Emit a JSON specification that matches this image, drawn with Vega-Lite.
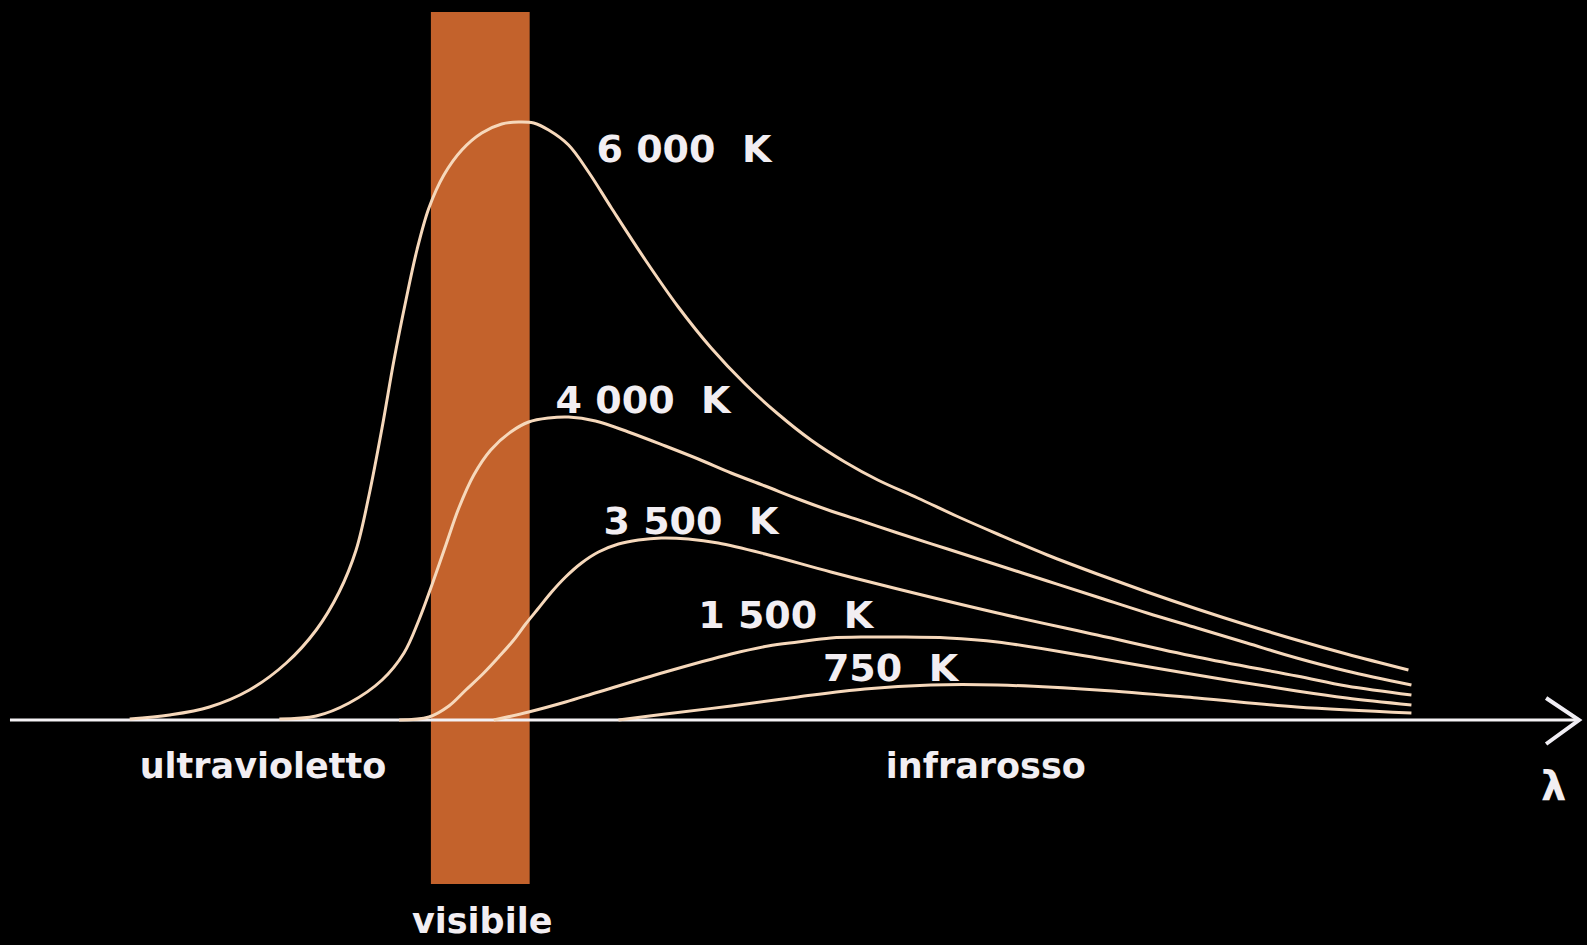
{
  "$schema": "https://vega.github.io/schema/vega-lite/v6.json",
  "width": 1587,
  "height": 945,
  "autosize": {"type": "fit", "contains": "padding"},
  "padding": 0,
  "background": "#000000",
  "config": {"view": {"stroke": null}},
  "layer": [
    {
      "data": {"values": [{"name": "visibile", "x0": 432, "x1": 531, "top": 708, "bottom": -164}]},
      "mark": {"type": "rect", "color": "#c3622c"},
      "encoding": {
        "x": {"field": "x0", "type": "quantitative", "scale": {"domain": [0, 1587], "nice": false, "zero": false}, "axis": null},
        "x2": {"field": "x1"},
        "y": {"field": "top", "type": "quantitative", "scale": {"domain": [-225, 720], "nice": false, "zero": false}, "axis": null},
        "y2": {"field": "bottom"}
      }
    },
    {
      "data": {"values": [{"x0": 10, "x1": 1583, "y": 0}]},
      "mark": {"type": "rule", "color": "#f4f1f4", "strokeWidth": 3},
      "encoding": {
        "x": {"field": "x0", "type": "quantitative", "scale": {"domain": [0, 1587], "nice": false, "zero": false}, "axis": null},
        "x2": {"field": "x1"},
        "y": {"field": "y", "type": "quantitative", "scale": {"domain": [-225, 720], "nice": false, "zero": false}, "axis": null}
      }
    },
    {
      "data": {"values": [{"p": 1, "x": 1550, "y": 22}, {"p": 2, "x": 1583, "y": 0}, {"p": 3, "x": 1550, "y": -24}]},
      "mark": {"type": "line", "color": "#f0eef4", "strokeWidth": 4},
      "encoding": {
        "x": {"field": "x", "type": "quantitative", "scale": {"domain": [0, 1587], "nice": false, "zero": false}, "axis": null},
        "y": {"field": "y", "type": "quantitative", "scale": {"domain": [-225, 720], "nice": false, "zero": false}, "axis": null},
        "order": {"field": "p"}
      }
    },
    {
      "data": {"values": [
        {"T": "6000", "x": 130, "y": 1}, {"T": "6000", "x": 170, "y": 5}, {"T": "6000", "x": 210, "y": 13}, {"T": "6000", "x": 250, "y": 30},
        {"T": "6000", "x": 287, "y": 57}, {"T": "6000", "x": 317, "y": 90}, {"T": "6000", "x": 340, "y": 128}, {"T": "6000", "x": 357, "y": 170},
        {"T": "6000", "x": 370, "y": 225}, {"T": "6000", "x": 383, "y": 292}, {"T": "6000", "x": 395, "y": 360}, {"T": "6000", "x": 407, "y": 420},
        {"T": "6000", "x": 418, "y": 470}, {"T": "6000", "x": 430, "y": 512}, {"T": "6000", "x": 445, "y": 545}, {"T": "6000", "x": 463, "y": 570},
        {"T": "6000", "x": 483, "y": 587}, {"T": "6000", "x": 503, "y": 596}, {"T": "6000", "x": 520, "y": 598}, {"T": "6000", "x": 535, "y": 597},
        {"T": "6000", "x": 550, "y": 590}, {"T": "6000", "x": 570, "y": 575}, {"T": "6000", "x": 590, "y": 548}, {"T": "6000", "x": 613, "y": 512},
        {"T": "6000", "x": 647, "y": 460}, {"T": "6000", "x": 680, "y": 413}, {"T": "6000", "x": 713, "y": 372}, {"T": "6000", "x": 747, "y": 336},
        {"T": "6000", "x": 780, "y": 306}, {"T": "6000", "x": 813, "y": 280}, {"T": "6000", "x": 847, "y": 258}, {"T": "6000", "x": 880, "y": 240},
        {"T": "6000", "x": 920, "y": 222}, {"T": "6000", "x": 961, "y": 203}, {"T": "6000", "x": 1000, "y": 186}, {"T": "6000", "x": 1050, "y": 165},
        {"T": "6000", "x": 1100, "y": 146}, {"T": "6000", "x": 1150, "y": 128}, {"T": "6000", "x": 1200, "y": 111}, {"T": "6000", "x": 1250, "y": 95},
        {"T": "6000", "x": 1300, "y": 80}, {"T": "6000", "x": 1350, "y": 66}, {"T": "6000", "x": 1412, "y": 50},
        {"T": "4000", "x": 280, "y": 1}, {"T": "4000", "x": 317, "y": 4}, {"T": "4000", "x": 350, "y": 17}, {"T": "4000", "x": 383, "y": 40},
        {"T": "4000", "x": 405, "y": 67}, {"T": "4000", "x": 420, "y": 100}, {"T": "4000", "x": 433, "y": 135}, {"T": "4000", "x": 447, "y": 175},
        {"T": "4000", "x": 460, "y": 212}, {"T": "4000", "x": 475, "y": 245}, {"T": "4000", "x": 492, "y": 270}, {"T": "4000", "x": 512, "y": 288},
        {"T": "4000", "x": 530, "y": 298}, {"T": "4000", "x": 550, "y": 302}, {"T": "4000", "x": 570, "y": 303}, {"T": "4000", "x": 597, "y": 299},
        {"T": "4000", "x": 630, "y": 288}, {"T": "4000", "x": 667, "y": 274}, {"T": "4000", "x": 700, "y": 261}, {"T": "4000", "x": 733, "y": 247},
        {"T": "4000", "x": 767, "y": 234}, {"T": "4000", "x": 800, "y": 221}, {"T": "4000", "x": 833, "y": 209}, {"T": "4000", "x": 867, "y": 198},
        {"T": "4000", "x": 900, "y": 187}, {"T": "4000", "x": 950, "y": 171}, {"T": "4000", "x": 1000, "y": 155}, {"T": "4000", "x": 1050, "y": 139},
        {"T": "4000", "x": 1100, "y": 123}, {"T": "4000", "x": 1150, "y": 107}, {"T": "4000", "x": 1200, "y": 92}, {"T": "4000", "x": 1250, "y": 77},
        {"T": "4000", "x": 1300, "y": 62}, {"T": "4000", "x": 1350, "y": 49}, {"T": "4000", "x": 1415, "y": 35},
        {"T": "3500", "x": 400, "y": 0}, {"T": "3500", "x": 430, "y": 3}, {"T": "3500", "x": 450, "y": 14}, {"T": "3500", "x": 467, "y": 30},
        {"T": "3500", "x": 485, "y": 47}, {"T": "3500", "x": 500, "y": 63}, {"T": "3500", "x": 515, "y": 80}, {"T": "3500", "x": 527, "y": 96},
        {"T": "3500", "x": 540, "y": 112}, {"T": "3500", "x": 553, "y": 128}, {"T": "3500", "x": 567, "y": 143}, {"T": "3500", "x": 583, "y": 157},
        {"T": "3500", "x": 600, "y": 168}, {"T": "3500", "x": 620, "y": 176}, {"T": "3500", "x": 640, "y": 180}, {"T": "3500", "x": 663, "y": 182},
        {"T": "3500", "x": 690, "y": 181}, {"T": "3500", "x": 720, "y": 177}, {"T": "3500", "x": 767, "y": 166}, {"T": "3500", "x": 833, "y": 148},
        {"T": "3500", "x": 900, "y": 131}, {"T": "3500", "x": 1000, "y": 107}, {"T": "3500", "x": 1100, "y": 85}, {"T": "3500", "x": 1200, "y": 63},
        {"T": "3500", "x": 1300, "y": 44}, {"T": "3500", "x": 1350, "y": 34}, {"T": "3500", "x": 1415, "y": 25},
        {"T": "1500", "x": 495, "y": 0}, {"T": "1500", "x": 530, "y": 8}, {"T": "1500", "x": 567, "y": 18}, {"T": "1500", "x": 600, "y": 28},
        {"T": "1500", "x": 667, "y": 48}, {"T": "1500", "x": 733, "y": 66}, {"T": "1500", "x": 770, "y": 74}, {"T": "1500", "x": 800, "y": 78},
        {"T": "1500", "x": 833, "y": 82}, {"T": "1500", "x": 870, "y": 83}, {"T": "1500", "x": 900, "y": 83}, {"T": "1500", "x": 950, "y": 82},
        {"T": "1500", "x": 1000, "y": 78}, {"T": "1500", "x": 1100, "y": 62}, {"T": "1500", "x": 1200, "y": 45}, {"T": "1500", "x": 1300, "y": 29},
        {"T": "1500", "x": 1350, "y": 22}, {"T": "1500", "x": 1415, "y": 15},
        {"T": "750", "x": 620, "y": 0}, {"T": "750", "x": 667, "y": 6}, {"T": "750", "x": 733, "y": 14}, {"T": "750", "x": 800, "y": 23},
        {"T": "750", "x": 867, "y": 31}, {"T": "750", "x": 933, "y": 35}, {"T": "750", "x": 1000, "y": 35}, {"T": "750", "x": 1100, "y": 30},
        {"T": "750", "x": 1200, "y": 22}, {"T": "750", "x": 1300, "y": 13}, {"T": "750", "x": 1415, "y": 7}
      ]},
      "mark": {"type": "line", "color": "#f6d8bb", "strokeWidth": 3, "interpolate": "catmull-rom"},
      "encoding": {
        "x": {"field": "x", "type": "quantitative", "scale": {"domain": [0, 1587], "nice": false, "zero": false}, "axis": null},
        "y": {"field": "y", "type": "quantitative", "scale": {"domain": [-225, 720], "nice": false, "zero": false}, "axis": null},
        "detail": {"field": "T", "type": "nominal"}
      }
    },
    {
      "data": {"values": [
        {"label": "6 000\u00a0\u00a0K", "x": 598, "y": 558},
        {"label": "4 000\u00a0\u00a0K", "x": 557, "y": 307},
        {"label": "3 500\u00a0\u00a0K", "x": 605, "y": 186},
        {"label": "1 500\u00a0\u00a0K", "x": 700, "y": 92},
        {"label": "750\u00a0\u00a0K", "x": 825, "y": 39}
      ]},
      "mark": {"type": "text", "align": "left", "baseline": "alphabetic", "font": "DejaVu Sans", "fontWeight": "bold", "fontSize": 38, "color": "#f2eef2"},
      "encoding": {
        "x": {"field": "x", "type": "quantitative", "scale": {"domain": [0, 1587], "nice": false, "zero": false}, "axis": null},
        "y": {"field": "y", "type": "quantitative", "scale": {"domain": [-225, 720], "nice": false, "zero": false}, "axis": null},
        "text": {"field": "label"}
      }
    },
    {
      "data": {"values": [
        {"label": "ultravioletto", "x": 140, "y": -58},
        {"label": "infrarosso", "x": 888, "y": -58},
        {"label": "visibile", "x": 413, "y": -213}
      ]},
      "mark": {"type": "text", "align": "left", "baseline": "alphabetic", "font": "DejaVu Sans", "fontWeight": "bold", "fontSize": 35, "color": "#f2eef2"},
      "encoding": {
        "x": {"field": "x", "type": "quantitative", "scale": {"domain": [0, 1587], "nice": false, "zero": false}, "axis": null},
        "y": {"field": "y", "type": "quantitative", "scale": {"domain": [-225, 720], "nice": false, "zero": false}, "axis": null},
        "text": {"field": "label"}
      }
    },
    {
      "data": {"values": [{"label": "λ", "x": 1545, "y": -80}]},
      "mark": {"type": "text", "align": "left", "baseline": "alphabetic", "font": "DejaVu Sans", "fontWeight": "bold", "fontSize": 40, "color": "#f2eef2"},
      "encoding": {
        "x": {"field": "x", "type": "quantitative", "scale": {"domain": [0, 1587], "nice": false, "zero": false}, "axis": null},
        "y": {"field": "y", "type": "quantitative", "scale": {"domain": [-225, 720], "nice": false, "zero": false}, "axis": null},
        "text": {"field": "label"}
      }
    }
  ]
}
